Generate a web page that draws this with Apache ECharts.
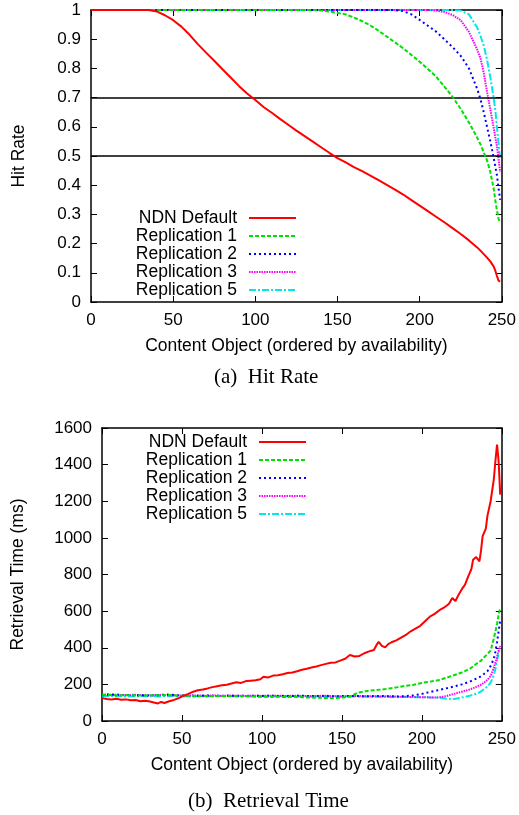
<!DOCTYPE html>
<html>
<head>
<meta charset="utf-8">
<script src="https://cdn.jsdelivr.net/npm/echarts@6/dist/echarts.min.js"></script>
<style>html,body{margin:0;padding:0;background:#fff;}#c{width:519px;height:815px;}</style>
</head>
<body>
<div id="c"></div>
<script>
// ---------- DATA ----------
const seriesNames = ['NDN Default', 'Replication 1', 'Replication 2', 'Replication 3', 'Replication 5'];
const xTicks = [0, 50, 100, 150, 200, 250];
const hitTicks = [0, 0.1, 0.2, 0.3, 0.4, 0.5, 0.6, 0.7, 0.8, 0.9, 1];
const rtTicks = [0, 200, 400, 600, 800, 1000, 1200, 1400, 1600];
const hitRefLines = [0.7, 0.5];

// content object index (shared x positions)
const xObj = [0,5,10,15,20,25,30,35,40,45,50,55,60,65,70,75,80,85,90,95,100,105,110,115,120,125,130,135,140,145,150,155,160,165,170,175,180,185,190,195,200,205,210,215,220,225,230,235,237,239,241,243,245,246,247,248,249];

// (a) Hit Rate
const hitNDN  = [1,1,1,1,1,1,1,1,0.995,0.982,0.965,0.943,0.915,0.883,0.854,0.826,0.797,0.769,0.740,0.714,0.692,0.668,0.648,0.627,0.607,0.587,0.568,0.549,0.530,0.511,0.493,0.478,0.462,0.448,0.433,0.417,0.401,0.385,0.368,0.349,0.330,0.311,0.292,0.273,0.253,0.233,0.211,0.187,0.176,0.164,0.152,0.139,0.122,0.108,0.090,0.073,0.070];
const hitRep1 = [1,1,1,1,1,1,1,1,1,1,1,1,1,1,1,1,1,1,1,1,1,1,1,1,1,1,1,1,0.998,0.995,0.990,0.985,0.974,0.962,0.947,0.929,0.909,0.889,0.869,0.846,0.823,0.798,0.772,0.738,0.703,0.661,0.615,0.563,0.540,0.513,0.485,0.445,0.390,0.350,0.315,0.285,0.272];
const hitRep2 = [1,1,1,1,1,1,1,1,1,1,1,1,1,1,1,1,1,1,1,1,1,1,1,1,1,1,1,1,1,1,1,1,1,1,1,1,1,1,0.996,0.985,0.966,0.946,0.926,0.900,0.873,0.843,0.800,0.730,0.695,0.650,0.600,0.550,0.495,0.465,0.435,0.390,0.350];
const hitRep3 = [1,1,1,1,1,1,1,1,1,1,1,1,1,1,1,1,1,1,1,1,1,1,1,1,1,1,1,1,1,1,1,1,1,1,1,1,1,1,1,1,1,1,0.998,0.993,0.983,0.965,0.925,0.865,0.835,0.785,0.720,0.660,0.598,0.565,0.535,0.490,0.445];
const hitRep5 = [1,1,1,1,1,1,1,1,1,1,1,1,1,1,1,1,1,1,1,1,1,1,1,1,1,1,1,1,1,1,1,1,1,1,1,1,1,1,1,1,1,1,1,1,1,0.998,0.985,0.940,0.912,0.878,0.830,0.770,0.700,0.660,0.600,0.545,0.490];

// (b) Retrieval Time (ms)
const xRtNDN = [0,3,6,9,12,15,18,21,24,27,30,33,35,37,39,42,45,48,51,54,57,60,63,66,69,72,75,78,81,84,87,90,93,96,99,101,104,107,110,113,116,119,122,125,128,131,134,137,140,143,146,149,152,155,158,161,164,167,170,172,173,175,177,179,181,184,187,190,193,196,199,202,205,208,211,214,217,219,221,223,225,227,229,231,232,234,235,236,237,238,239,240,241,242,243,244,245,246,247,248,249];
const rtNDN  = [125,120,118,122,116,118,113,115,108,110,106,100,96,104,98,108,115,125,138,148,160,168,172,178,185,190,195,198,205,212,208,218,220,222,228,242,238,248,250,255,262,265,272,280,285,292,298,305,312,318,320,330,340,360,352,355,370,380,388,420,432,410,402,420,430,440,455,470,490,505,520,545,570,585,605,620,640,672,655,690,720,745,790,830,880,895,885,872,930,1010,1000,1050,1120,1125,1200,1260,1320,1420,1510,1420,1236];
const rtRep1 = [143,142,140,141,140,139,141,140,142,140,138,137,136,137,136,137,136,137,135,134,132,133,132,131,132,130,128,127,126,124,128,132,155,163,168,172,178,185,192,198,208,215,222,235,250,265,285,318,330,348,365,385,450,490,530,580,620];
const rtRep2 = [140,145,143,142,141,140,139,141,145,142,140,139,138,139,138,137,138,138,137,138,137,138,137,136,137,138,136,137,136,135,136,137,136,135,136,137,135,134,136,140,148,158,168,178,188,200,215,235,245,258,272,300,340,380,430,490,550];
const rtRep3 = [145,144,143,142,143,142,141,142,141,140,139,140,139,138,139,138,139,138,137,138,137,138,138,137,138,137,136,137,138,136,135,136,137,136,135,134,135,133,132,131,130,129,128,135,148,160,172,190,198,210,225,245,290,320,350,385,410];
const rtRep5 = [135,136,135,134,135,136,135,134,135,136,135,134,135,134,135,136,135,134,135,134,135,134,135,134,135,134,133,134,135,134,133,134,133,132,133,132,131,132,131,130,130,129,128,122,120,128,138,152,162,175,188,210,250,285,330,370,400];

// ---------- STYLE ----------
const SANS = 'Liberation Sans';
const colors = ['#ff0000', '#00e000', '#0000ff', '#ff00ff', '#00e8e8'];
const lineTypes = ['solid', [4, 2], [2, 3], [1.5, 1], [7, 2, 2, 2]];
const lineWidths = [2, 2, 2, 2, 2];

function pairs(xs, ys) { return xs.map((x, i) => [x, ys[i]]); }

function xAx(grid, pos, showLabels) {
  return {
    type: 'value', gridIndex: grid, position: pos, min: xTicks[0], max: xTicks[xTicks.length - 1], interval: xTicks[1] - xTicks[0],
    axisLine: { show: true, onZero: false, lineStyle: { color: '#000', width: 1.5 } },
    axisTick: { show: true, inside: true, length: 6, lineStyle: { color: '#000', width: 1 } },
    axisLabel: { show: showLabels, color: '#000', fontSize: 17, fontFamily: SANS, margin: 10, formatter: v => String(v) },
    splitLine: { show: false }
  };
}
function yAx(grid, pos, showLabels, ticks) {
  return {
    type: 'value', gridIndex: grid, position: pos, min: ticks[0], max: ticks[ticks.length - 1], interval: ticks[1] - ticks[0],
    axisLine: { show: true, onZero: false, lineStyle: { color: '#000', width: 1.5 } },
    axisTick: { show: true, inside: true, length: 6, lineStyle: { color: '#000', width: 1 } },
    axisLabel: { show: showLabels, color: '#000', fontSize: 17, fontFamily: SANS, margin: 10,
      formatter: v => String(Math.round(v * 1000) / 1000) },
    splitLine: { show: false }
  };
}

const xAxes = [xAx(0, 'bottom', true), xAx(0, 'top', false), xAx(1, 'bottom', true), xAx(1, 'top', false)];
const yAxes = [yAx(0, 'left', true, hitTicks), yAx(0, 'right', false, hitTicks),
               yAx(1, 'left', true, rtTicks), yAx(1, 'right', false, rtTicks)];
const xName = 'Content Object (ordered by availability)';
[xAxes[0], xAxes[2]].forEach(a => {
  a.name = xName; a.nameLocation = 'middle'; a.nameGap = 35;
  a.nameTextStyle = { color: '#000', fontSize: 17.5, fontFamily: SANS };
});
yAxes[0].name = 'Hit Rate'; yAxes[0].nameLocation = 'middle'; yAxes[0].nameGap = 63;
yAxes[0].nameTextStyle = { color: '#000', fontSize: 17.5, fontFamily: SANS };
yAxes[2].name = 'Retrieval Time (ms)'; yAxes[2].nameLocation = 'middle'; yAxes[2].nameGap = 75;
yAxes[2].nameTextStyle = { color: '#000', fontSize: 17.5, fontFamily: SANS };

const hitData = [hitNDN, hitRep1, hitRep2, hitRep3, hitRep5];
const rtData = [rtNDN, rtRep1, rtRep2, rtRep3, rtRep5];
const series = [];
seriesNames.forEach((name, i) => {
  const s = {
    name: name, type: 'line', xAxisIndex: 0, yAxisIndex: 0, symbol: 'none',
    data: pairs(xObj, hitData[i]), z: 3 + (4 - i),
    lineStyle: { color: colors[i], type: lineTypes[i], width: lineWidths[i] },
    itemStyle: { color: colors[i] }
  };
  if (i === 0) {
    s.markLine = {
      silent: true, symbol: 'none', label: { show: false }, animation: false,
      lineStyle: { color: '#000', type: 'solid', width: 1.5 },
      data: hitRefLines.map(v => ({ yAxis: v }))
    };
  }
  series.push(s);
});
seriesNames.forEach((name, i) => {
  series.push({
    name: name, type: 'line', xAxisIndex: 2, yAxisIndex: 2, symbol: 'none',
    data: pairs(i === 0 ? xRtNDN : xObj, rtData[i]), z: 3 + (4 - i),
    lineStyle: { color: colors[i], type: lineTypes[i], width: lineWidths[i] },
    itemStyle: { color: colors[i] }
  });
});

function legendAt(right, top) {
  return {
    orient: 'vertical', align: 'right', right: right, top: top, padding: 0,
    itemWidth: 47, itemHeight: 14, itemGap: 0, selectedMode: false,
    itemStyle: { color: 'rgba(0,0,0,0)', borderColor: 'rgba(0,0,0,0)', borderWidth: 0, opacity: 0 },
    formatter: n => '{t|' + n + '}',
    textStyle: { color: '#000', fontSize: 17.5, fontFamily: SANS,
      rich: { t: { color: '#000', fontSize: 17.5, fontFamily: SANS, padding: [0, 7, 0, 0] } } },
    data: seriesNames
  };
}

const chart = echarts.init(document.getElementById('c'), null, { renderer: 'canvas' });
chart.setOption({
  animation: false,
  backgroundColor: '#fff',
  grid: [
    { left: 91, right: 17, top: 10, height: 292 },
    { left: 102, right: 17, top: 428, height: 293 }
  ],
  xAxis: xAxes,
  yAxis: yAxes,
  legend: [legendAt(222, 209), legendAt(212, 433)],
  series: series,
  graphic: [
    { type: 'text', left: 214, top: 367, style: { text: '(a)  Hit Rate', font: '21px "Liberation Serif"', fill: '#000' } },
    { type: 'text', left: 188, top: 791, style: { text: '(b)  Retrieval Time', font: '21px "Liberation Serif"', fill: '#000' } }
  ]
});
</script>
</body>
</html>
